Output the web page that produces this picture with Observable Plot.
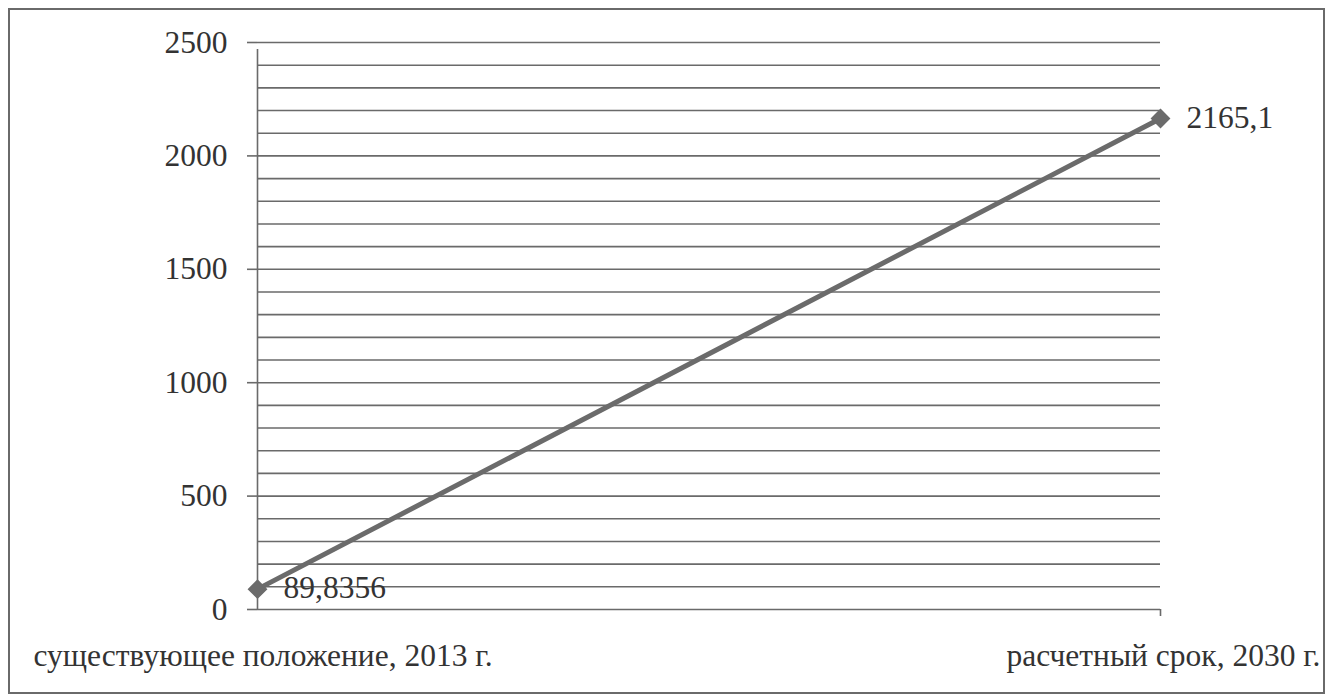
<!DOCTYPE html>
<html>
<head>
<meta charset="utf-8">
<script src="https://cdn.jsdelivr.net/npm/d3@7"></script>
<script src="https://cdn.jsdelivr.net/npm/@observablehq/plot@0.6"></script>
<style>
  html, body { margin: 0; padding: 0; background: #fff; }
  #wrap { position: relative; width: 1334px; height: 696px; overflow: hidden; }
  #border { position: absolute; left: 8px; top: 8px; width: 1313px; height: 682px; border: 2px solid #6a6a6a; pointer-events: none; }
  #wrap svg, #wrap svg text { font-family: "Liberation Serif", "DejaVu Serif", serif !important; }
</style>
</head>
<body>
<div id="wrap"><div id="border"></div></div>
<script>
// Data
const categories = ["существующее положение, 2013 г.", "расчетный срок, 2030 г."];
const values = [89.8356, 2165.1];
const valueLabels = ["89,8356", "2165,1"];
const yTicks = [0, 500, 1000, 1500, 2000, 2500];
const gridValues = [100, 200, 300, 400, 500, 600, 700, 800, 900, 1000, 1100, 1200, 1300, 1400, 1500, 1600, 1700, 1800, 1900, 2000, 2100, 2200, 2300, 2400, 2500];

const data = categories.map((c, i) => ({cat: c, value: values[i], label: valueLabels[i]}));

const ink = "#333333";
const gridColor = "#6a6a6a";
const lineColor = "#6b6b6b";
const fs = 31.5;

const chart = Plot.plot({
  width: 1334,
  height: 696,
  marginLeft: 257,
  marginRight: 174,
  marginTop: 42,
  marginBottom: 87,
  style: "font-family: 'Liberation Serif', 'DejaVu Serif', serif; background: transparent; color: #333333;",
  x: {type: "point", domain: categories, padding: 0, axis: null},
  y: {domain: [0, 2500], axis: null},
  marks: [
    Plot.ruleY(gridValues, {stroke: gridColor, strokeWidth: 1.6}),
    Plot.ruleY([0], {stroke: gridColor, strokeWidth: 1.6}),
    Plot.ruleX([categories[0]], {y1: 0, y2: 2500, stroke: gridColor, strokeWidth: 1.6, insetBottom: -7}),
    Plot.ruleX([categories[1]], {y1: 0, y2: 0, stroke: gridColor, strokeWidth: 1.6, insetBottom: -7}),
    Plot.axisY(yTicks, {tickSize: 10, tickPadding: 20, fontSize: fs, stroke: gridColor, strokeWidth: 1.6, fill: ink, label: null, tickFormat: d => String(d)}),
    Plot.line(data, {x: "cat", y: "value", stroke: lineColor, strokeWidth: 5}),
    Plot.dot(data, {x: "cat", y: "value", symbol: "diamond2", r: 8, fill: lineColor, stroke: lineColor}),
    Plot.text(data, {x: "cat", y: "value", text: "label", textAnchor: "start", dx: 26, dy: -1, fontSize: fs, fill: ink, lineAnchor: "middle"}),
    Plot.text(data.slice(0, 1), {x: "cat", y: 0, text: "cat", textAnchor: "start", dx: -224, dy: 46, fontSize: fs, fill: ink, lineAnchor: "middle"}),
    Plot.text(data.slice(1), {x: "cat", y: 0, text: "cat", textAnchor: "end", dx: 160, dy: 46, fontSize: fs, fill: ink, lineAnchor: "middle"})
  ]
});
chart.style.position = "absolute";
chart.style.left = "0";
chart.style.top = "0";
document.getElementById("wrap").appendChild(chart);
</script>
</body>
</html>
